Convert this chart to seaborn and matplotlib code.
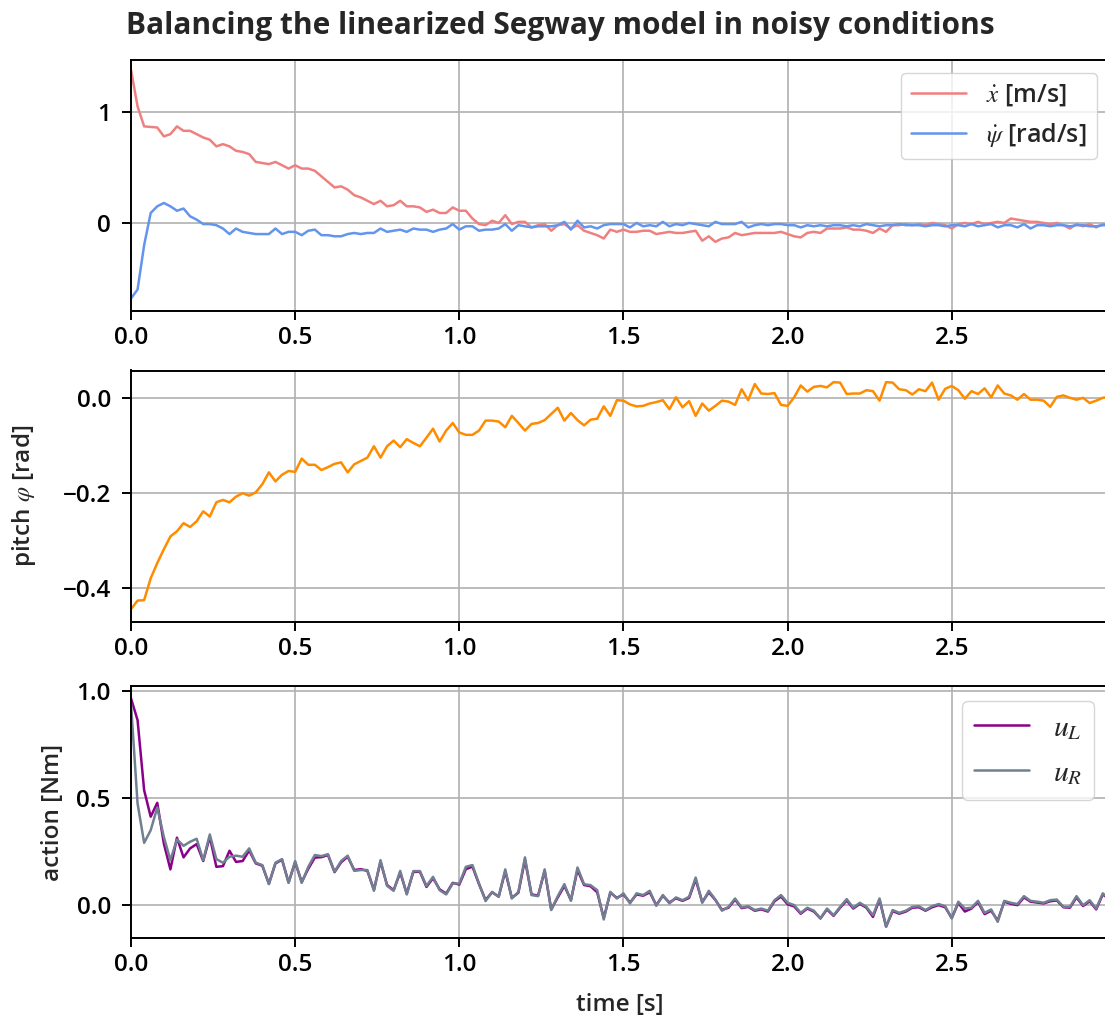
import numpy as np
import pandas as pd
import matplotlib
matplotlib.use("Agg")
import matplotlib.pyplot as plt
import seaborn as sns

# ---------------- data ----------------
time_s = np.round(np.arange(150) * 0.02, 2)

x_dot = [1.38, 1.05, 0.87, 0.865, 0.86, 0.78, 0.80, 0.87, 0.83, 0.83,
         0.80, 0.77, 0.75, 0.69, 0.71, 0.69, 0.65, 0.64, 0.62, 0.55,
         0.54, 0.53, 0.55, 0.52, 0.49, 0.52, 0.49, 0.49, 0.47, 0.42,
         0.37, 0.32, 0.33, 0.30, 0.25, 0.23, 0.20, 0.17, 0.20, 0.15,
         0.16, 0.20, 0.15, 0.15, 0.14, 0.10, 0.12, 0.09, 0.09, 0.14,
         0.11, 0.11, 0.04, -0.01, -0.02, 0.02, 0.00, 0.07, -0.01, 0.01,
         0.01, -0.04, -0.02, -0.01, -0.07, -0.02, -0.01, -0.05, -0.02, -0.07,
         -0.09, -0.11, -0.14, -0.06, -0.08, -0.06, -0.08, -0.08, -0.07, -0.07,
         -0.10, -0.09, -0.08, -0.09, -0.09, -0.08, -0.07, -0.16, -0.12, -0.17,
         -0.14, -0.13, -0.09, -0.11, -0.10, -0.09, -0.09, -0.09, -0.09, -0.08,
         -0.10, -0.12, -0.13, -0.09, -0.08, -0.09, -0.05, -0.05, -0.05, -0.04,
         -0.06, -0.06, -0.07, -0.09, -0.05, -0.08, -0.02, -0.02, -0.01, -0.02,
         -0.01, -0.02, 0.00, -0.01, -0.02, -0.05, -0.01, 0.00, -0.01, 0.01,
         -0.01, 0.00, 0.01, 0.00, 0.04, 0.03, 0.02, 0.01, 0.01, 0.00,
         -0.01, 0.00, -0.02, -0.05, -0.01, -0.03, -0.01, -0.04, -0.01, -0.02]

psi_dot = [-0.68, -0.60, -0.20, 0.09, 0.15, 0.18, 0.15, 0.11, 0.13, 0.06,
           0.03, -0.01, -0.01, -0.02, -0.05, -0.10, -0.05, -0.08, -0.09, -0.10,
           -0.10, -0.10, -0.05, -0.10, -0.08, -0.08, -0.11, -0.07, -0.06, -0.11,
           -0.11, -0.12, -0.12, -0.10, -0.09, -0.10, -0.09, -0.09, -0.05, -0.08,
           -0.07, -0.06, -0.08, -0.05, -0.06, -0.06, -0.08, -0.06, -0.05, -0.01,
           -0.06, -0.03, -0.03, -0.07, -0.06, -0.06, -0.05, -0.01, -0.07, -0.02,
           -0.03, -0.04, -0.03, -0.03, -0.03, -0.02, 0.01, -0.06, 0.02, -0.04,
           -0.03, -0.05, -0.02, -0.01, -0.01, -0.01, -0.04, 0.00, -0.03, -0.02,
           -0.03, 0.01, -0.03, -0.01, -0.02, 0.00, -0.01, -0.02, -0.03, 0.01,
           -0.01, -0.01, -0.01, 0.01, -0.04, -0.02, -0.01, -0.02, -0.01, -0.01,
           -0.02, -0.02, -0.04, -0.02, -0.03, -0.02, -0.03, -0.02, -0.02, -0.03,
           -0.02, -0.03, -0.01, -0.02, -0.03, -0.02, -0.02, -0.01, -0.02, -0.02,
           -0.02, -0.03, -0.02, -0.02, -0.03, -0.02, -0.02, -0.03, -0.01, -0.03,
           -0.02, -0.01, -0.04, -0.02, -0.02, -0.04, -0.01, -0.05, -0.02, -0.02,
           -0.03, -0.02, -0.02, -0.03, -0.02, -0.02, -0.03, -0.03, -0.02, -0.02]

pitch = [-0.445, -0.427, -0.426, -0.380, -0.348, -0.319, -0.292, -0.281, -0.264, -0.272,
         -0.260, -0.239, -0.250, -0.220, -0.215, -0.220, -0.208, -0.201, -0.206, -0.199,
         -0.182, -0.157, -0.176, -0.162, -0.154, -0.156, -0.128, -0.141, -0.141, -0.152,
         -0.146, -0.139, -0.136, -0.157, -0.140, -0.133, -0.126, -0.102, -0.126, -0.102,
         -0.090, -0.104, -0.087, -0.095, -0.102, -0.084, -0.065, -0.092, -0.069, -0.053,
         -0.073, -0.078, -0.078, -0.069, -0.048, -0.048, -0.050, -0.062, -0.038, -0.053,
         -0.069, -0.055, -0.053, -0.047, -0.034, -0.021, -0.048, -0.032, -0.047, -0.058,
         -0.046, -0.044, -0.018, -0.038, -0.005, -0.006, -0.014, -0.018, -0.017, -0.012,
         -0.009, -0.005, -0.024, 0.001, -0.020, -0.007, -0.038, -0.012, -0.027, -0.017,
         -0.006, -0.008, -0.015, 0.018, -0.005, 0.029, 0.009, 0.008, 0.010, -0.015,
         -0.017, 0.001, 0.026, 0.013, 0.023, 0.025, 0.022, 0.033, 0.032, 0.008,
         0.009, 0.009, 0.016, 0.014, -0.006, 0.033, 0.032, 0.018, 0.016, 0.007,
         0.018, 0.014, 0.032, -0.004, 0.019, 0.025, 0.016, -0.002, 0.014, 0.008,
         0.020, 0.001, 0.026, 0.009, 0.005, -0.004, 0.008, -0.004, -0.004, -0.006,
         -0.019, 0.002, 0.005, 0.000, -0.004, 0.000, -0.011, -0.006, 0.000, 0.002]

u_L = [0.966, 0.864, 0.537, 0.413, 0.478, 0.288, 0.167, 0.315, 0.223, 0.265,
       0.285, 0.206, 0.319, 0.179, 0.182, 0.254, 0.202, 0.206, 0.255, 0.195,
       0.184, 0.100, 0.195, 0.212, 0.106, 0.200, 0.108, 0.170, 0.222, 0.224,
       0.234, 0.154, 0.200, 0.226, 0.164, 0.168, 0.160, 0.072, 0.203, 0.094,
       0.070, 0.152, 0.054, 0.155, 0.156, 0.085, 0.126, 0.074, 0.054, 0.104,
       0.096, 0.168, 0.180, 0.098, 0.024, 0.060, 0.040, 0.158, 0.034, 0.058,
       0.212, 0.050, 0.045, 0.160, -0.020, 0.036, 0.090, 0.024, 0.165, 0.094,
       0.088, 0.060, -0.060, 0.058, 0.034, 0.050, 0.012, 0.050, 0.044, 0.060,
       0.000, 0.044, 0.012, 0.032, 0.020, 0.034, 0.120, 0.014, 0.060, 0.024,
       -0.022, -0.012, 0.026, -0.014, -0.008, -0.026, -0.020, -0.030, 0.018, 0.040,
       0.004, -0.006, -0.040, -0.016, -0.030, -0.062, -0.020, -0.050, -0.012, 0.022,
       -0.016, 0.006, -0.012, -0.055, 0.026, -0.100, -0.028, -0.040, -0.030, -0.012,
       -0.010, -0.026, -0.010, 0.000, -0.010, -0.060, 0.010, -0.030, -0.016, 0.014,
       -0.042, -0.026, -0.072, 0.016, 0.006, 0.000, 0.036, 0.016, 0.012, 0.008,
       0.018, 0.022, -0.010, -0.012, 0.036, -0.004, 0.018, -0.020, 0.050, 0.028]

u_R = [0.940, 0.475, 0.291, 0.350, 0.456, 0.319, 0.210, 0.307, 0.277, 0.296,
       0.310, 0.210, 0.330, 0.215, 0.198, 0.226, 0.231, 0.226, 0.265, 0.198,
       0.187, 0.098, 0.198, 0.215, 0.104, 0.206, 0.104, 0.179, 0.234, 0.229,
       0.238, 0.156, 0.206, 0.231, 0.160, 0.164, 0.164, 0.067, 0.210, 0.090,
       0.067, 0.160, 0.050, 0.159, 0.159, 0.090, 0.132, 0.070, 0.050, 0.101,
       0.101, 0.179, 0.187, 0.101, 0.019, 0.062, 0.039, 0.167, 0.031, 0.062,
       0.223, 0.047, 0.042, 0.167, -0.023, 0.042, 0.098, 0.020, 0.176, 0.098,
       0.093, 0.070, -0.067, 0.062, 0.031, 0.055, 0.008, 0.055, 0.047, 0.067,
       -0.003, 0.047, 0.008, 0.036, 0.023, 0.039, 0.129, 0.011, 0.067, 0.026,
       -0.026, -0.008, 0.031, -0.011, -0.005, -0.023, -0.016, -0.026, 0.023, 0.047,
       0.011, 0.000, -0.036, -0.012, -0.026, -0.062, -0.016, -0.047, -0.008, 0.028,
       -0.012, 0.011, -0.008, -0.047, 0.031, -0.101, -0.023, -0.036, -0.026, -0.008,
       -0.005, -0.023, -0.005, 0.005, -0.005, -0.062, 0.016, -0.016, -0.012, 0.020,
       -0.036, -0.020, -0.078, 0.020, 0.011, 0.005, 0.042, 0.020, 0.016, 0.011,
       0.023, 0.026, -0.008, -0.008, 0.042, 0.000, 0.023, -0.016, 0.055, 0.030]

x_ticks = [0.0, 0.5, 1.0, 1.5, 2.0, 2.5]

df = pd.DataFrame({"time": time_s, "x_dot": x_dot, "psi_dot": psi_dot,
                   "pitch": pitch, "u_L": u_L, "u_R": u_R})

# ---------------- style ----------------
sns.set_theme(style="ticks")
FONT = ["Open Sans", "DejaVu Sans"]
plt.rcParams["font.family"] = FONT
plt.rcParams["mathtext.fontset"] = "stix"
TICK_FS = 17.5
LABEL_FS = 17.5
WEIGHT = "semibold"

fig = plt.figure(figsize=(11.05, 10.19), dpi=100)
W, H = 1105.0, 1019.0
left = 131 / W
width = 2.98 * 328.3 / W
ax1 = fig.add_axes([left, (H - 311) / H, width, 251 / H])
ax2 = fig.add_axes([left, (H - 621.5) / H, width, 251 / H])
ax3 = fig.add_axes([left, (H - 938) / H, width, 252 / H])

LW = 1.8
sns.lineplot(data=df, x="time", y="x_dot", ax=ax1, color="lightcoral", lw=LW,
             label=r"$\dot{x}$ [m/s]")
sns.lineplot(data=df, x="time", y="psi_dot", ax=ax1, color="cornflowerblue", lw=LW,
             label=r"$\dot{\psi}$ [rad/s]")
sns.lineplot(data=df, x="time", y="pitch", ax=ax2, color="darkorange", lw=LW)
sns.lineplot(data=df, x="time", y="u_L", ax=ax3, color="darkmagenta", lw=LW,
             label=r"$u_L$")
sns.lineplot(data=df, x="time", y="u_R", ax=ax3, color="slategray", lw=LW,
             label=r"$u_R$")

ax1.set_ylim(-0.793, 1.468)
ax1.set_yticks([0, 1])
ax1.set_yticklabels(["0", "1"])
ax2.set_ylim(-0.471, 0.0575)
ax2.set_yticks([-0.4, -0.2, 0.0])
ax2.set_yticklabels(["\u22120.4", "\u22120.2", "0.0"])
ax3.set_ylim(-0.1535, 1.0235)
ax3.set_yticks([0.0, 0.5, 1.0])
ax3.set_yticklabels(["0.0", "0.5", "1.0"])

for ax in (ax1, ax2, ax3):
    ax.set_xlim(0, 2.98)
    ax.set_xticks(x_ticks)
    ax.set_xticklabels([f"{v:.1f}" for v in x_ticks])
    ax.grid(True, color="#b0b0b0", lw=1.2)
    ax.set_axisbelow(True)
    for s in ax.spines.values():
        s.set_color("black")
        s.set_linewidth(1.4)
    ax.tick_params(axis="both", labelsize=TICK_FS, length=6.5, width=1.4,
                   color="black", labelcolor="black")
    ax.tick_params(axis="x", pad=4.5)
    ax.tick_params(axis="y", pad=8)
    for lab in ax.get_xticklabels() + ax.get_yticklabels():
        lab.set_fontweight(WEIGHT)
    ax.set_xlabel("")
    ax.set_ylabel("")

ax2.set_ylabel(r"pitch $\varphi$ [rad]", fontsize=LABEL_FS, fontweight=WEIGHT, labelpad=18)
ax3.set_ylabel("action [Nm]", fontsize=LABEL_FS, fontweight=WEIGHT, labelpad=8)
ax3.set_xlabel("time [s]", fontsize=LABEL_FS, fontweight=WEIGHT, labelpad=11)

leg_common = dict(loc="upper right", framealpha=0.8, edgecolor="#cccccc",
                  fancybox=True, borderaxespad=0.5, labelspacing=0.5)
ax1.legend(handlelength=2.2,
           prop={"family": FONT, "weight": WEIGHT, "size": 18}, **leg_common)
ax3.legend(handlelength=1.85,
           prop={"family": FONT, "weight": WEIGHT, "size": 21.5}, **leg_common)

fig.text(126 / W, 1 - 26 / H, "Balancing the linearized Segway model in noisy conditions",
         fontsize=21.5, fontweight="bold", ha="left", va="center")

fig.savefig("out.png", dpi=100)
